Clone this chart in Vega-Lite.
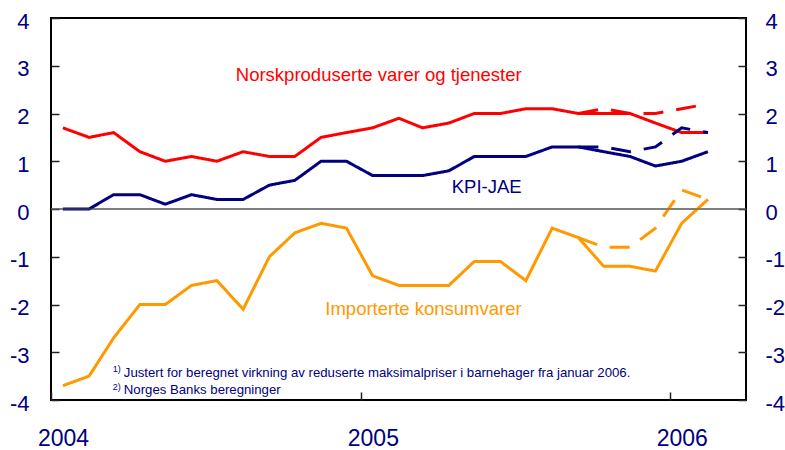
{
  "$schema": "https://vega.github.io/schema/vega-lite/v6.json",
  "width": 695,
  "height": 382,
  "autosize": "none",
  "padding": {"left": 51, "top": 18, "right": 39, "bottom": 50},
  "background": "white",
  "config": {
    "view": {"stroke": "#000000", "strokeWidth": 2},
    "font": "Liberation Sans"
  },
  "datasets": {
    "series": [
      {"d": "2004-01-15", "s": "N", "t": "a", "v": 1.7},
      {"d": "2004-02-15", "s": "N", "t": "a", "v": 1.5},
      {"d": "2004-03-15", "s": "N", "t": "a", "v": 1.6},
      {"d": "2004-04-15", "s": "N", "t": "a", "v": 1.2},
      {"d": "2004-05-15", "s": "N", "t": "a", "v": 1.0},
      {"d": "2004-06-15", "s": "N", "t": "a", "v": 1.1},
      {"d": "2004-07-15", "s": "N", "t": "a", "v": 1.0},
      {"d": "2004-08-15", "s": "N", "t": "a", "v": 1.2},
      {"d": "2004-09-15", "s": "N", "t": "a", "v": 1.1},
      {"d": "2004-10-15", "s": "N", "t": "a", "v": 1.1},
      {"d": "2004-11-15", "s": "N", "t": "a", "v": 1.5},
      {"d": "2004-12-15", "s": "N", "t": "a", "v": 1.6},
      {"d": "2005-01-15", "s": "N", "t": "a", "v": 1.7},
      {"d": "2005-02-15", "s": "N", "t": "a", "v": 1.9},
      {"d": "2005-03-15", "s": "N", "t": "a", "v": 1.7},
      {"d": "2005-04-15", "s": "N", "t": "a", "v": 1.8},
      {"d": "2005-05-15", "s": "N", "t": "a", "v": 2.0},
      {"d": "2005-06-15", "s": "N", "t": "a", "v": 2.0},
      {"d": "2005-07-15", "s": "N", "t": "a", "v": 2.1},
      {"d": "2005-08-15", "s": "N", "t": "a", "v": 2.1},
      {"d": "2005-09-15", "s": "N", "t": "a", "v": 2.0},
      {"d": "2005-10-15", "s": "N", "t": "a", "v": 2.0},
      {"d": "2005-11-15", "s": "N", "t": "a", "v": 2.0},
      {"d": "2005-12-15", "s": "N", "t": "a", "v": 1.8},
      {"d": "2006-01-15", "s": "N", "t": "a", "v": 1.6},
      {"d": "2006-02-15", "s": "N", "t": "a", "v": 1.6},
      {"d": "2005-09-15", "s": "N", "t": "b", "v": 2.0},
      {"d": "2005-10-15", "s": "N", "t": "b", "v": 2.1},
      {"d": "2005-11-15", "s": "N", "t": "b", "v": 2.0},
      {"d": "2005-12-15", "s": "N", "t": "b", "v": 2.0},
      {"d": "2006-01-15", "s": "N", "t": "b", "v": 2.1},
      {"d": "2006-02-15", "s": "N", "t": "b", "v": 2.2},
      {"d": "2004-01-15", "s": "K", "t": "a", "v": 0.0},
      {"d": "2004-02-15", "s": "K", "t": "a", "v": 0.0},
      {"d": "2004-03-15", "s": "K", "t": "a", "v": 0.3},
      {"d": "2004-04-15", "s": "K", "t": "a", "v": 0.3},
      {"d": "2004-05-15", "s": "K", "t": "a", "v": 0.1},
      {"d": "2004-06-15", "s": "K", "t": "a", "v": 0.3},
      {"d": "2004-07-15", "s": "K", "t": "a", "v": 0.2},
      {"d": "2004-08-15", "s": "K", "t": "a", "v": 0.2},
      {"d": "2004-09-15", "s": "K", "t": "a", "v": 0.5},
      {"d": "2004-10-15", "s": "K", "t": "a", "v": 0.6},
      {"d": "2004-11-15", "s": "K", "t": "a", "v": 1.0},
      {"d": "2004-12-15", "s": "K", "t": "a", "v": 1.0},
      {"d": "2005-01-15", "s": "K", "t": "a", "v": 0.7},
      {"d": "2005-02-15", "s": "K", "t": "a", "v": 0.7},
      {"d": "2005-03-15", "s": "K", "t": "a", "v": 0.7},
      {"d": "2005-04-15", "s": "K", "t": "a", "v": 0.8},
      {"d": "2005-05-15", "s": "K", "t": "a", "v": 1.1},
      {"d": "2005-06-15", "s": "K", "t": "a", "v": 1.1},
      {"d": "2005-07-15", "s": "K", "t": "a", "v": 1.1},
      {"d": "2005-08-15", "s": "K", "t": "a", "v": 1.3},
      {"d": "2005-09-15", "s": "K", "t": "a", "v": 1.3},
      {"d": "2005-10-15", "s": "K", "t": "a", "v": 1.2},
      {"d": "2005-11-15", "s": "K", "t": "a", "v": 1.1},
      {"d": "2005-12-15", "s": "K", "t": "a", "v": 0.9},
      {"d": "2006-01-15", "s": "K", "t": "a", "v": 1.0},
      {"d": "2006-02-15", "s": "K", "t": "a", "v": 1.2},
      {"d": "2005-09-15", "s": "K", "t": "b", "v": 1.3},
      {"d": "2005-10-15", "s": "K", "t": "b", "v": 1.3},
      {"d": "2005-11-15", "s": "K", "t": "b", "v": 1.2},
      {"d": "2005-12-15", "s": "K", "t": "b", "v": 1.3},
      {"d": "2006-01-15", "s": "K", "t": "b", "v": 1.7},
      {"d": "2006-02-15", "s": "K", "t": "b", "v": 1.6},
      {"d": "2004-01-15", "s": "I", "t": "a", "v": -3.7},
      {"d": "2004-02-15", "s": "I", "t": "a", "v": -3.5},
      {"d": "2004-03-15", "s": "I", "t": "a", "v": -2.7},
      {"d": "2004-04-15", "s": "I", "t": "a", "v": -2.0},
      {"d": "2004-05-15", "s": "I", "t": "a", "v": -2.0},
      {"d": "2004-06-15", "s": "I", "t": "a", "v": -1.6},
      {"d": "2004-07-15", "s": "I", "t": "a", "v": -1.5},
      {"d": "2004-08-15", "s": "I", "t": "a", "v": -2.1},
      {"d": "2004-09-15", "s": "I", "t": "a", "v": -1.0},
      {"d": "2004-10-15", "s": "I", "t": "a", "v": -0.5},
      {"d": "2004-11-15", "s": "I", "t": "a", "v": -0.3},
      {"d": "2004-12-15", "s": "I", "t": "a", "v": -0.4},
      {"d": "2005-01-15", "s": "I", "t": "a", "v": -1.4},
      {"d": "2005-02-15", "s": "I", "t": "a", "v": -1.6},
      {"d": "2005-03-15", "s": "I", "t": "a", "v": -1.6},
      {"d": "2005-04-15", "s": "I", "t": "a", "v": -1.6},
      {"d": "2005-05-15", "s": "I", "t": "a", "v": -1.1},
      {"d": "2005-06-15", "s": "I", "t": "a", "v": -1.1},
      {"d": "2005-07-15", "s": "I", "t": "a", "v": -1.5},
      {"d": "2005-08-15", "s": "I", "t": "a", "v": -0.4},
      {"d": "2005-09-15", "s": "I", "t": "a", "v": -0.6},
      {"d": "2005-10-15", "s": "I", "t": "a", "v": -1.2},
      {"d": "2005-11-15", "s": "I", "t": "a", "v": -1.2},
      {"d": "2005-12-15", "s": "I", "t": "a", "v": -1.3},
      {"d": "2006-01-15", "s": "I", "t": "a", "v": -0.3},
      {"d": "2006-02-15", "s": "I", "t": "a", "v": 0.2},
      {"d": "2005-09-15", "s": "I", "t": "b", "v": -0.6},
      {"d": "2005-10-15", "s": "I", "t": "b", "v": -0.8},
      {"d": "2005-11-15", "s": "I", "t": "b", "v": -0.8},
      {"d": "2005-12-15", "s": "I", "t": "b", "v": -0.4},
      {"d": "2006-01-15", "s": "I", "t": "b", "v": 0.4},
      {"d": "2006-02-15", "s": "I", "t": "b", "v": 0.2}
    ],
    "labels": [
      {"d": "2005-07-10", "v": 2.81, "s": "N", "txt": "Norskproduserte varer og tjenester"},
      {"d": "2005-07-10", "v": 0.46, "s": "K", "txt": "KPI-JAE"},
      {"d": "2005-07-10", "v": -2.09, "s": "I", "txt": "Importerte konsumvarer"}
    ],
    "notes": [
      {"d": "2004-03-27", "v": -3.43, "txt": "Justert for beregnet virkning av reduserte maksimalpriser i barnehager fra januar 2006."},
      {"d": "2004-03-27", "v": -3.79, "txt": "Norges Banks beregninger"}
    ],
    "sups": [
      {"d": "2004-03-14", "v": -3.36, "txt": "1)"},
      {"d": "2004-03-14", "v": -3.72, "txt": "2)"}
    ]
  },
  "layer": [
    {
      "layer": [
        {
          "data": {"values": [{"z": 0}]},
          "mark": {"type": "rule", "color": "#555555", "strokeWidth": 1},
          "encoding": {
            "y": {"field": "z", "type": "quantitative"}
          }
        },
        {
          "data": {"name": "series"},
          "mark": {"type": "line", "strokeWidth": 3, "strokeJoin": "miter", "strokeCap": "butt"},
          "encoding": {
            "x": {
              "field": "d", "type": "temporal",
              "scale": {"type": "utc", "domain": [{"year": 2004, "month": 1, "date": 1, "utc": true}, {"year": 2006, "month": 4, "date": 1, "utc": true}]},
              "axis": {
                "title": null, "domain": false, "grid": false,
                "values": [{"year": 2004, "month": 1, "date": 1, "utc": true}, {"year": 2005, "month": 1, "date": 1, "utc": true}, {"year": 2006, "month": 1, "date": 1, "utc": true}],
                "format": "%Y", "formatType": "utc",
                "tickSize": -8, "tickColor": "#222222", "tickWidth": 1.5,
                "labelFontSize": 23, "labelColor": "#000080", "labelFont": "Liberation Sans",
                "labelPadding": 35, "labelOffset": 12, "labelFlush": false
              }
            },
            "y": {
              "field": "v", "type": "quantitative",
              "scale": {"domain": [-4, 4], "nice": false},
              "axis": {
                "title": null, "domain": false, "grid": false, "orient": "left",
                "values": [-4, -3, -2, -1, 0, 1, 2, 3, 4],
                "labelExpr": "datum.value < 0 ? '-' + abs(datum.value) : '' + datum.value",
                "tickSize": -8, "tickColor": "#222222", "tickWidth": 1.5,
                "labelFontSize": 22, "labelColor": "#000080", "labelFont": "Liberation Sans",
                "labelPadding": 30, "labelOffset": 3, "labelFlush": false
              }
            },
            "color": {
              "field": "s", "type": "nominal", "legend": null,
              "scale": {"domain": ["N", "K", "I"], "range": ["#FF0000", "#000080", "#FF9900"]}
            },
            "strokeDash": {
              "field": "t", "type": "nominal", "legend": null,
              "scale": {"domain": ["a", "b"], "range": [[1, 0], [20, 13]]}
            }
          }
        },
        {
          "data": {"name": "labels"},
          "mark": {"type": "text", "align": "right", "baseline": "middle", "fontSize": 18.5, "font": "Liberation Sans"},
          "encoding": {
            "x": {"field": "d", "type": "temporal"},
            "y": {"field": "v", "type": "quantitative"},
            "text": {"field": "txt"},
            "color": {"field": "s", "type": "nominal", "legend": null}
          }
        },
        {
          "data": {"name": "notes"},
          "mark": {"type": "text", "align": "left", "baseline": "middle", "fontSize": 13.2, "font": "Liberation Sans", "color": "#000080"},
          "encoding": {
            "x": {"field": "d", "type": "temporal"},
            "y": {"field": "v", "type": "quantitative"},
            "text": {"field": "txt"}
          }
        },
        {
          "data": {"name": "sups"},
          "mark": {"type": "text", "align": "left", "baseline": "middle", "fontSize": 9, "font": "Liberation Sans", "color": "#000080"},
          "encoding": {
            "x": {"field": "d", "type": "temporal"},
            "y": {"field": "v", "type": "quantitative"},
            "text": {"field": "txt"}
          }
        }
      ]
    },
    {
      "data": {"values": [{"z": 0}]},
      "mark": {"type": "rule", "color": "#555555", "strokeWidth": 1},
      "encoding": {
        "y": {
          "field": "z", "type": "quantitative",
          "scale": {"domain": [-4, 4], "nice": false},
          "axis": {
            "title": null, "domain": false, "grid": false, "orient": "right",
            "values": [-4, -3, -2, -1, 0, 1, 2, 3, 4],
            "labelExpr": "datum.value < 0 ? '-' + abs(datum.value) : '' + datum.value",
            "tickSize": -8, "tickColor": "#222222", "tickWidth": 1.5,
            "labelFontSize": 22, "labelColor": "#000080", "labelFont": "Liberation Sans",
            "labelPadding": 27, "labelOffset": 3, "labelFlush": false
          }
        }
      }
    }
  ],
  "resolve": {"scale": {"y": "independent"}}
}
